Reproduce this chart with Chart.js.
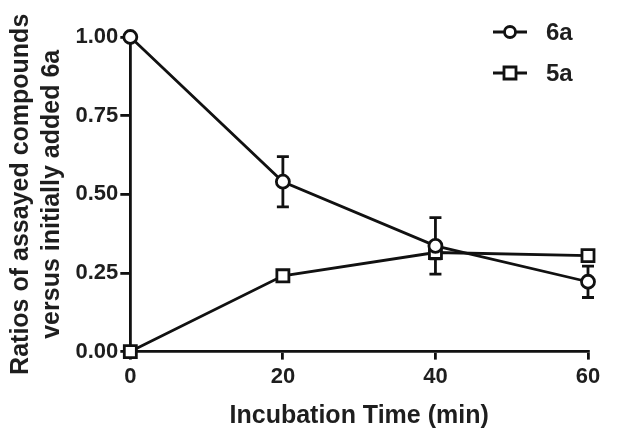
<!DOCTYPE html>
<html><head><meta charset="utf-8">
<script src="https://cdn.jsdelivr.net/npm/chart.js@4/dist/chart.umd.min.js"></script>
<style>html,body{margin:0;padding:0;background:#fff}</style>
</head><body>
<canvas id="c" width="617" height="433"></canvas>
<script>
const times = [0, 20, 40, 60];
const ratio6a = [1.00, 0.54, 0.336, 0.222];
const err6a = [0, 0.08, 0.09, 0.05];
const ratio5a = [0.00, 0.241, 0.315, 0.305];
const err5a = [0, 0.004, 0.02, 0.015];
const xTicks = [0, 20, 40, 60];
const yTicks = [0, 0.25, 0.5, 0.75, 1.0];
const seriesNames = ['6a', '5a'];
const xTitle = 'Incubation Time (min)';
const yTitle = ['Ratios of assayed compounds', 'versus initially added 6a'];

const INK = '#111';
const TXT = '#1e1e1e';
const FONT = "'Liberation Sans', Arial, Helvetica, sans-serif";

const errorBars = {
  id: 'errorBars',
  beforeDatasetsDraw(chart) {
    const ctx = chart.ctx, xs = chart.scales.x, ys = chart.scales.y;
    chart.data.datasets.forEach(ds => {
      if (!ds.err) return;
      ctx.save();
      ctx.strokeStyle = INK; ctx.lineWidth = 2.8;
      ds.data.forEach((p, i) => {
        const e = ds.err[i];
        if (!e) return;
        const px = xs.getPixelForValue(p.x);
        const yt = ys.getPixelForValue(p.y + e), yb = ys.getPixelForValue(p.y - e);
        ctx.beginPath();
        ctx.moveTo(px, yt); ctx.lineTo(px, yb);
        ctx.moveTo(px - 6, yt); ctx.lineTo(px + 6, yt);
        ctx.moveTo(px - 6, yb); ctx.lineTo(px + 6, yb);
        ctx.stroke();
      });
      ctx.restore();
    });
  }
};

const customLegend = {
  id: 'customLegend',
  afterDraw(chart) {
    const ctx = chart.ctx;
    const items = [
      {name: seriesNames[0], style: 'circle', y: 32},
      {name: seriesNames[1], style: 'rect', y: 73}
    ];
    ctx.save();
    items.forEach(it => {
      ctx.strokeStyle = INK; ctx.lineWidth = 2.8;
      ctx.beginPath(); ctx.moveTo(493, it.y); ctx.lineTo(527, it.y); ctx.stroke();
      ctx.fillStyle = '#fff';
      ctx.beginPath();
      if (it.style === 'circle') ctx.arc(510, it.y, 5.5, 0, Math.PI * 2);
      else ctx.rect(504, it.y - 6, 12, 12);
      ctx.fill(); ctx.stroke();
      ctx.fillStyle = TXT;
      ctx.font = "bold 24px " + FONT;
      ctx.textBaseline = 'middle';
      ctx.fillText(it.name, 546, it.y + 1);
    });
    ctx.restore();
  }
};

const mk = (ys) => times.map((t, i) => ({x: t, y: ys[i]}));

new Chart(document.getElementById('c'), {
  type: 'scatter',
  data: {
    datasets: [
      {label: seriesNames[0], data: mk(ratio6a), err: err6a, showLine: true,
       borderColor: INK, borderWidth: 2.8, pointStyle: 'circle', pointRadius: 6.5,
       pointBorderWidth: 2.8, pointBackgroundColor: '#fff', pointBorderColor: INK},
      {label: seriesNames[1], data: mk(ratio5a), err: err5a, showLine: true,
       borderColor: INK, borderWidth: 2.8, pointStyle: 'rect', pointRadius: 8.5,
       pointBorderWidth: 2.8, pointBackgroundColor: '#fff', pointBorderColor: INK}
    ]
  },
  options: {
    responsive: false,
    animation: false,
    devicePixelRatio: 1,
    clip: false,
    layout: {padding: {left: 5, right: 29, top: 37, bottom: 2}},
    plugins: {legend: {display: false}, tooltip: {enabled: false}},
    scales: {
      x: {
        type: 'linear', min: 0, max: 60,
        afterBuildTicks: (s) => { s.ticks = xTicks.map(v => ({value: v})); },
        ticks: {color: TXT, font: {family: FONT, size: 22, weight: 'bold'}, padding: 4},
        grid: {drawOnChartArea: false, drawTicks: true, tickLength: 8, color: INK, lineWidth: 2.8},
        border: {display: true, color: INK, width: 2.8},
        title: {display: true, text: xTitle, color: TXT,
                font: {family: FONT, size: 25, weight: 'bold'}, padding: {top: 7, bottom: 0}}
      },
      y: {
        type: 'linear', min: 0, max: 1,
        afterBuildTicks: (s) => { s.ticks = yTicks.map(v => ({value: v})); },
        ticks: {color: TXT, font: {family: FONT, size: 22, weight: 'bold'}, padding: 2,
                callback: (v) => Number(v).toFixed(2)},
        grid: {drawOnChartArea: false, drawTicks: true, tickLength: 10, color: INK, lineWidth: 2.8},
        border: {display: true, color: INK, width: 2.8},
        title: {display: true, text: yTitle, color: TXT,
                font: {family: FONT, size: 25, weight: 'bold', lineHeight: 1.25}, padding: {top: 0, bottom: 6}}
      }
    }
  },
  plugins: [errorBars, customLegend]
});
</script>
</body></html>
